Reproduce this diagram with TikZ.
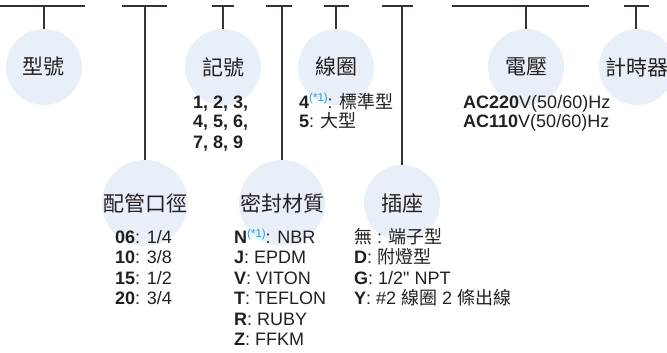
\documentclass[tikz,border=0pt]{standalone}
\usepackage{fontspec}
\setmainfont{Liberation Sans}[Ligatures=TeXOff]
\newfontfamily\cjk{Noto Sans CJK TC}
\usepackage{xcolor}
\usepackage{tikz}
\usetikzlibrary{positioning}
\definecolor{ink}{HTML}{231F20}
\definecolor{stemc}{HTML}{3A3232}
\definecolor{cfill}{HTML}{E9EFF8}
\definecolor{nblue}{HTML}{2E9AD6}
% blue footnote mark
\newcommand\noteref{\raisebox{6pt}{\fontsize{11.5}{11.5}\selectfont\color{nblue}(*1)}}
\tikzset{
  cat/.style  = {circle, fill=cfill, minimum size=76pt, inner sep=0pt, text=ink,
                 font=\cjk\fontsize{21}{24}\selectfont},
  opt/.style  = {anchor=base west, inner sep=0pt, text=ink,
                 font=\fontsize{18}{20}\selectfont},
  bar/.style  = {draw=stemc, line width=1.2pt},
}
\begin{document}
\begin{tikzpicture}[x=1pt,y=-1pt]
\useasboundingbox (0,0) rectangle (667,353);
\clip (0,0) rectangle (667,353);
\coordinate (top) at (0,6);
% top bars
\foreach \l/\r in {0/85,122/167,212/234,266/292,324/349,382/413,452/589,624/649}
  \draw[bar] (\l,6) -- (\r,6);
% categories
\node[cat] (typ)   at (44,67)   {型號};
\node[cat] (sym)   at (223,67)  {記號};
\node[cat] (coil)  at (336,67)  {線圈};
\node[cat] (volt)  at (526,67)  {電壓};
\node[cat] (timer) at (637,67)  {計時器};
\node[cat] (pipe)  at (145,203) {配管口徑};
\node[cat] (seal)  at (282,203) {密封材質};
\node[cat] (plug)  at (402,203) {插座};
% stems
\foreach \n in {typ,pipe,sym,seal,coil,plug,volt}
  \draw[bar] (\n |- top) -- (\n);
\draw[bar] (636,6) coordinate (tstem) -- (tstem |- timer.north);
% option lists
\foreach \t [count=\i from 0] in {{\textbf{1, 2, 3,}},{\textbf{4, 5, 6,}},{\textbf{7, 8, 9}}}
  \node[opt] (sym\i) at (193,{108+20*\i}) {\t};
\foreach \t [count=\i from 0] in {{\textbf{4}\noteref: {\cjk 標準型}},{\textbf{5}: {\cjk 大型}}}
  \node[opt] (coil\i) at (299,{108+20*\i}) {\t};
\foreach \t [count=\i from 0] in {{\textbf{AC220}V(50/60)Hz},{\textbf{AC110}V(50/60)Hz}}
  \node[opt] (volt\i) at (463,{108+20*\i}) {\t};
\foreach \t [count=\i from 0] in {{\textbf{06}: 1/4},{\textbf{10}: 3/8},{\textbf{15}: 1/2},{\textbf{20}: 3/4}}
  \node[opt] (pipe\i) at (115,{243+20.5*\i}) {\t};
\foreach \t [count=\i from 0] in {{\textbf{N}\noteref: NBR},{\textbf{J}: EPDM},{\textbf{V}: VITON},
                                  {\textbf{T}: TEFLON},{\textbf{R}: RUBY},{\textbf{Z}: FFKM}}
  \node[opt] (seal\i) at (234,{243+20.5*\i}) {\t};
\foreach \t [count=\i from 0] in {{{\cjk 無} : {\cjk 端子型}},{\textbf{D}: {\cjk 附燈型}},
                                  {\textbf{G}: 1/2" NPT},{\textbf{Y}: \#2 {\cjk 線圈} 2 {\cjk 條出線}}}
  \node[opt] (plug\i) at (354,{243+20.5*\i}) {\t};
\end{tikzpicture}
\end{document}
